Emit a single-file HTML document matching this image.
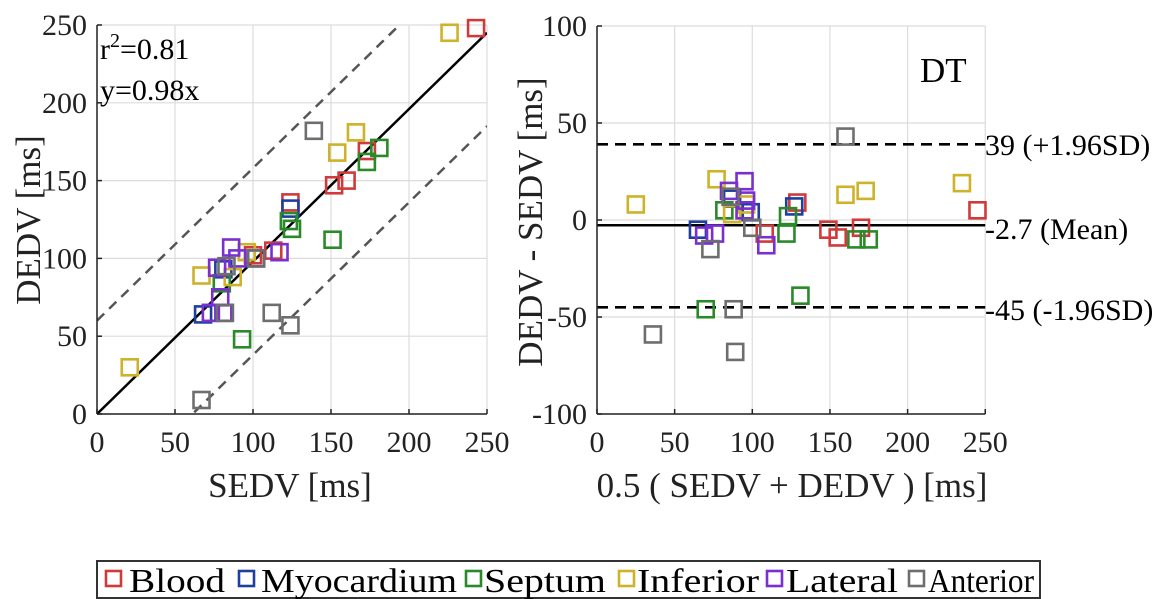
<!DOCTYPE html>
<html><head><meta charset="utf-8"><style>
body{margin:0;background:#fff;}
svg{display:block;font-family:"Liberation Serif",serif;}
</style></head><body>
<svg id="c" width="1167" height="599" viewBox="0 0 1167 599" xmlns="http://www.w3.org/2000/svg"></svg>
<script>
const groups=["Blood","Myocardium","Septum","Inferior","Lateral","Anterior"];
const colors=["#d03a3a","#1f3fa0","#2a8a2a","#cdb22a","#7a2fd0","#6e6e6e"];
// scatter: SEDV (x), DEDV (y)
const scatX=[[243,173,160,152,124,113,100],[124,68,81,102],[181,173,123,125,151,93,80],[226,166,154,67,21,87,96],[86,77,79,73,81,117,90],[139,112,124,67,82,83,102]];
const scatY=[[248,169,150,147,136,105,102],[132,64,93,100],[171,162,124,119,112,48,84],[245,181,168,89,30,88,104],[107,94,75,65,65,104,100],[182,65,57,9,65,95,100]];
// Bland-Altman: mean (x), diff (y)
const baX=[[245,129,149,155,170,108],[127,65,87,99],[131,70,175,167,122,123,82],[25,77,160,173,235,87,96],[95,85,69,76,109,95,96],[160,36,89,88,73,100,86]];
const baY=[[5,9,-5,-9,-4,-7],[7,-5,11,4],[-39,-46,-10,-10,-7,2,5],[8,21,13,15,19,3,8],[20,15,-8,-7,-13,5,10],[43,-59,-68,-46,-15,-4,12]];
const leftTicks=[0,50,100,150,200,250];
const rightXTicks=[0,50,100,150,200,250];
const rightYTicks=[-100,-50,0,50,100];
const meanDiff=-2.7, upperLoA=39, lowerLoA=-45, slope=0.98, offsetBand=60;

const NS="http://www.w3.org/2000/svg";
const svg=document.getElementById('c');
function el(t,a,p){const e=document.createElementNS(NS,t);for(const k in a)e.setAttribute(k,a[k]);(p||svg).appendChild(e);return e;}
const lx=v=>97+v*1.56, ly=v=>414-v*1.556;
const rx=v=>597+v*1.553, ry=v=>220-v*1.94;

function grid(xs,ys,fx,fy,x0,x1,y0,y1){
  xs.forEach(v=>{const l=el('line',{x1:fx(v),x2:fx(v),y1:y0,y2:y1,stroke:'#dcdcdc','stroke-width':1.2});
  });
  ys.forEach(v=>{const l=el('line',{x1:x0,x2:x1,y1:fy(v),y2:fy(v),stroke:'#dcdcdc','stroke-width':1.2});
  });
}
grid(leftTicks,leftTicks,lx,ly,lx(0),lx(250),ly(250),ly(0));
grid(rightXTicks,rightYTicks,rx,ry,rx(0),rx(250),ry(100),ry(-100));

const defs=el('defs',{});
const cp=el('clipPath',{id:'cl'},defs);el('rect',{x:lx(0),y:ly(250),width:lx(250)-lx(0),height:ly(0)-ly(250)},cp);
const gl=el('g',{'clip-path':'url(#cl)'});
let e;
e=el('line',{x1:lx(0),y1:ly(offsetBand),x2:lx(250),y2:ly(250*slope+offsetBand),stroke:'#555','stroke-width':2.5,'stroke-dasharray':'10,7'},gl);

e=el('line',{x1:lx(0),y1:ly(-offsetBand),x2:lx(250),y2:ly(250*slope-offsetBand),stroke:'#555','stroke-width':2.5,'stroke-dasharray':'10,7'},gl);

e=el('line',{x1:lx(0),y1:ly(0),x2:lx(250),y2:ly(250*slope),stroke:'#000','stroke-width':2.5},gl);


function markers(X,Y,fx,fy,g){
  X.forEach((arr,gi)=>arr.forEach((v,i)=>{
    const m=el('rect',{x:fx(v)-8,y:fy(Y[gi][i])-8,width:16,height:16,fill:'none',stroke:colors[gi],'stroke-width':2.6},g);
    
    
  }));
}
markers(scatX,scatY,lx,ly,svg);

[[upperLoA,'upper-loa-line',true],[lowerLoA,'lower-loa-line',true],[meanDiff,'mean-line',false]].forEach(([v,n,d])=>{
  const a={x1:rx(0),x2:rx(250),y1:ry(v),y2:ry(v),stroke:'#000','stroke-width':2.6};
  if(d)a['stroke-dasharray']='11,7';
  const l=el('line',a);
});
markers(baX,baY,rx,ry,svg);

function axes(fx,fy,xt,yt,xmin,ymin,xmax,ymax,pre){
  let a=el('line',{x1:fx(xmin),x2:fx(xmin),y1:fy(ymin),y2:fy(ymax),stroke:'#222','stroke-width':1.5});
  
  a=el('line',{x1:fx(xmin),x2:fx(xmax),y1:fy(ymin),y2:fy(ymin),stroke:'#222','stroke-width':1.5});
  
  xt.forEach(v=>{el('line',{x1:fx(v),x2:fx(v),y1:fy(ymin),y2:fy(ymin)-5,stroke:'#222','stroke-width':1.5});
    const t=el('text',{x:fx(v),y:fy(ymin)+38,'font-size':30,'text-anchor':'middle',fill:'#222'});t.textContent=v;
    });
  yt.forEach(v=>{el('line',{x1:fx(xmin),x2:fx(xmin)+5,y1:fy(v),y2:fy(v),stroke:'#222','stroke-width':1.5});
    const t=el('text',{x:fx(xmin)-10,y:fy(v)+10,'font-size':30,'text-anchor':'end',fill:'#222'});t.textContent=v;
    });
}
axes(lx,ly,leftTicks,leftTicks,0,0,250,250,'left');
axes(rx,ry,rightXTicks,rightYTicks,0,-100,250,100,'right');
</script>
<div style="position:absolute;left:0;top:0;width:1167px;height:599px;pointer-events:none">
<svg width="1167" height="599" style="font-family:'Liberation Serif',serif">
<text x="100" y="59" font-size="30">r<tspan dy="-12" font-size="20">2</tspan><tspan dy="12">=0.81</tspan></text>
<text x="100" y="100" font-size="30">y=0.98x</text>
<text x="290" y="497" font-size="35" text-anchor="middle" fill="#222">SEDV [ms]</text>
<text transform="translate(40,220) rotate(-90)" font-size="35" text-anchor="middle" fill="#222">DEDV [ms]</text>
<text x="792" y="497" font-size="35" text-anchor="middle" fill="#222">0.5 ( SEDV + DEDV ) [ms]</text>
<text transform="translate(542,222) rotate(-90)" font-size="35" text-anchor="middle" fill="#222">DEDV - SEDV [ms]</text>
<text x="920" y="82" font-size="35">DT</text>
<text x="985" y="155" font-size="30">39 (+1.96SD)</text>
<text x="985" y="239" font-size="30">-2.7 (Mean)</text>
<text x="985" y="320" font-size="30">-45 (-1.96SD)</text>
<g>
<rect x="97" y="561" width="943" height="37" fill="#fff" stroke="#333" stroke-width="2"/>
<g font-size="34">
<rect x="106" y="571" width="15" height="15" fill="none" stroke="#d03a3a" stroke-width="2.6"/><text x="129" y="592" textLength="96" lengthAdjust="spacingAndGlyphs">Blood</text>
<rect x="239" y="571" width="15" height="15" fill="none" stroke="#1f3fa0" stroke-width="2.6"/><text x="261" y="592" textLength="196" lengthAdjust="spacingAndGlyphs">Myocardium</text>
<rect x="466" y="571" width="15" height="15" fill="none" stroke="#2a8a2a" stroke-width="2.6"/><text x="484" y="592" textLength="122" lengthAdjust="spacingAndGlyphs">Septum</text>
<rect x="619" y="571" width="15" height="15" fill="none" stroke="#cdb22a" stroke-width="2.6"/><text x="637" y="592" textLength="122" lengthAdjust="spacingAndGlyphs">Inferior</text>
<rect x="767" y="571" width="15" height="15" fill="none" stroke="#7a2fd0" stroke-width="2.6"/><text x="786" y="592" textLength="112" lengthAdjust="spacingAndGlyphs">Lateral</text>
<rect x="909" y="571" width="15" height="15" fill="none" stroke="#6e6e6e" stroke-width="2.6"/><text x="928" y="592" textLength="106" lengthAdjust="spacingAndGlyphs">Anterior</text>
</g></g>
</svg></div>
</body></html>
